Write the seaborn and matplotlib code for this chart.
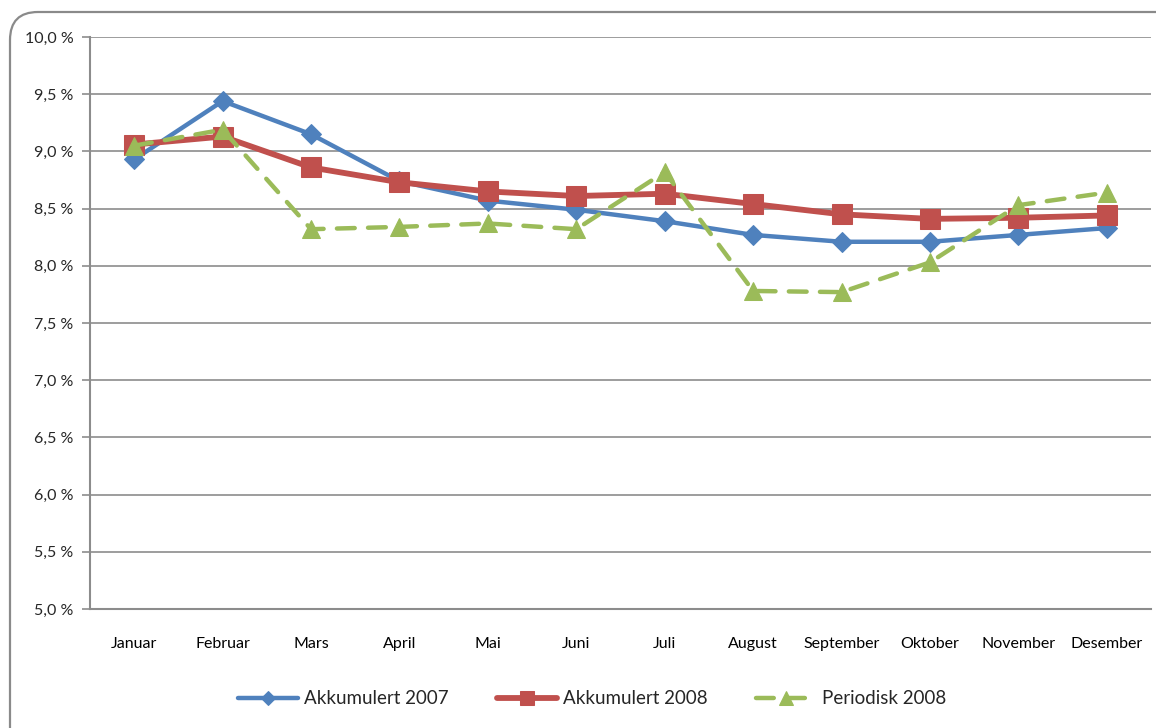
import matplotlib
matplotlib.use("Agg")
import matplotlib.pyplot as plt
import matplotlib.patches as mpatches
import matplotlib.transforms as mtransforms
from matplotlib.ticker import FixedLocator, FuncFormatter
import seaborn as sns
import numpy as np

months = ["Januar", "Februar", "Mars", "April", "Mai", "Juni", "Juli",
          "August", "September", "Oktober", "November", "Desember"]
akk_2007 = [8.93, 9.44, 9.15, 8.74, 8.57, 8.49, 8.39, 8.27, 8.21, 8.21, 8.27, 8.33]
akk_2008 = [9.06, 9.13, 8.86, 8.73, 8.65, 8.61, 8.63, 8.54, 8.45, 8.41, 8.42, 8.44]
per_2008 = [9.05, 9.19, 8.32, 8.34, 8.37, 8.32, 8.82, 7.78, 7.77, 8.03, 8.53, 8.64]
y_ticks = [5.0, 5.5, 6.0, 6.5, 7.0, 7.5, 8.0, 8.5, 9.0, 9.5, 10.0]

sns.set_style("white")
plt.rcParams['font.family'] = ['Lato', 'DejaVu Sans']

fig = plt.figure(figsize=(11.56, 7.28), dpi=100)
ax = fig.add_axes([90/1156, 1-609/728, (1151-90)/1156, (609-37)/728])

x = np.arange(len(months))
blue, red, green = "#4F81BD", "#C0504D", "#9BBB59"

sns.lineplot(x=x, y=akk_2007, ax=ax, color=blue, lw=3.2, marker="D",
             markersize=10, markeredgecolor=blue, label="Akkumulert 2007", zorder=3)
sns.lineplot(x=x, y=akk_2008, ax=ax, color=red, lw=4.2, marker="s",
             markersize=14, markeredgecolor=red, label="Akkumulert 2008", zorder=4)
sns.lineplot(x=x, y=per_2008, ax=ax, color=green, lw=3.2, marker="^",
             markersize=13, markeredgecolor=green, label="Periodisk 2008", zorder=5)
ax.lines[-1].set_dashes([4, 3])
ax.lines[-1].set_dash_capstyle("round")

ax.set_xlim(-0.5, 11.5)
ax.set_ylim(5.0, 10.0)
ax.yaxis.set_major_locator(FixedLocator(y_ticks))
ax.yaxis.set_major_formatter(FuncFormatter(lambda v, p: f"{v:.1f} %".replace(".", ",")))
ax.grid(axis="y", color="#8c8c8c", lw=1.2)
ax.set_axisbelow(True)

ax.set_xticks(x)
ax.set_xticklabels(months)
ax.set_xticks(np.arange(-0.5, 12, 1), minor=True)
ax.tick_params(axis="x", which="major", length=0, pad=20, labelsize=11.5, colors="black")
ax.tick_params(axis="x", which="minor", length=6, width=1.2, color="#8c8c8c", direction="out")
ax.tick_params(axis="y", length=6, width=1.2, color="#8c8c8c", labelsize=11.5, pad=6,
               direction="out", left=True)

for s in ["top", "right"]:
    ax.spines[s].set_visible(False)
for s in ["left", "bottom"]:
    ax.spines[s].set_color("#8c8c8c")
    ax.spines[s].set_linewidth(1.5)
ax.set_xlabel("")
ax.set_ylabel("")

ax.legend_.remove()
h, l = ax.get_legend_handles_labels()
fig.legend(h, l, loc="center", bbox_to_anchor=(592/1156, 1-699/728), ncol=3,
           frameon=False, fontsize=13.5, handlelength=3.2, columnspacing=2.6,
           handletextpad=0.3, markerscale=0.75)

border = mpatches.FancyBboxPatch((10, -30), 1250, 728-12+30,
                                 boxstyle="round,pad=0,rounding_size=28",
                                 transform=mtransforms.IdentityTransform(),
                                 facecolor="none", edgecolor="#8a8a8a", lw=1.6)
fig.patches.append(border)

fig.savefig("out.png", dpi=100)
